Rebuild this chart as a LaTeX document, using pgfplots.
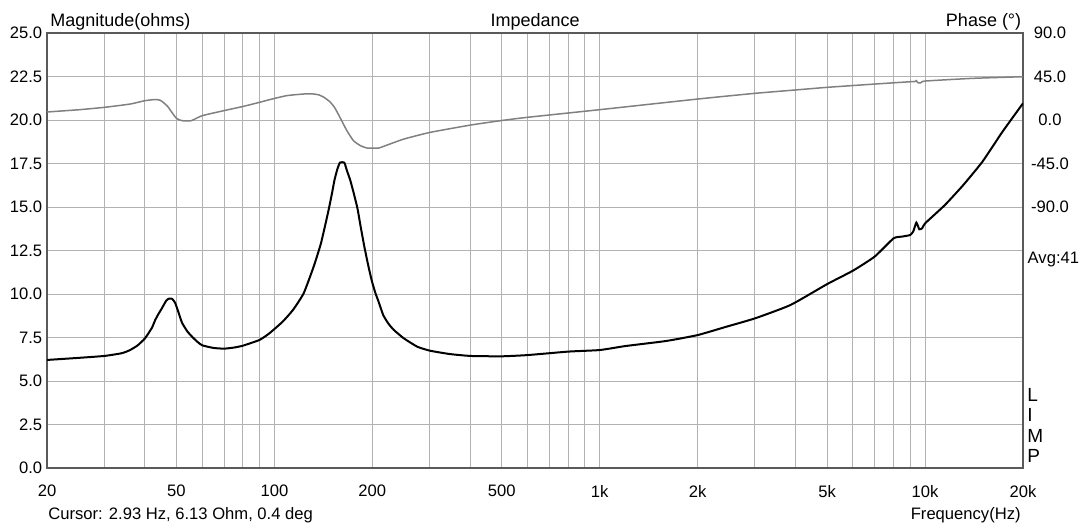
\documentclass[border=0pt]{standalone}
\usepackage{fontspec}
\setmainfont{Liberation Sans}
\usepackage{pgfplots}
\usepackage{pgfplotstable}
\pgfplotsset{compat=1.18}
\definecolor{gridc}{RGB}{178,178,178}
\definecolor{framec}{RGB}{90,90,90}
\definecolor{phasec}{RGB}{128,128,128}

% magnitude (ohms) vs frequency
\pgfplotstableread{
f z
20 6.21
25 6.33
30 6.44
34 6.60
36 6.78
38 7.05
40 7.45
42 8.05
43 8.50
44 8.85
45 9.15
46.5 9.62
47.5 9.74
48.5 9.72
49.5 9.50
50.5 9.05
52 8.35
54 7.85
56 7.52
58 7.25
60 7.05
65 6.90
70 6.86
75 6.92
80 7.03
90 7.36
96.5 7.74
106 8.41
114 9.08
123 10.04
132 11.57
139 12.91
146 14.64
150 15.70
153 16.55
156 17.15
159 17.55
164 17.55
167 17.10
171 16.55
175 15.85
180 14.92
184 13.90
189 12.72
194 11.70
199 10.80
204 10.10
209 9.56
216 8.79
224 8.30
233 7.93
250 7.45
275 6.97
301 6.74
346 6.55
401 6.44
500 6.42
600 6.49
800 6.69
1000 6.78
1200 7.01
1600 7.30
2000 7.64
2450 8.12
3000 8.60
3860 9.37
5000 10.57
6000 11.34
7000 12.15
8000 13.20
8500 13.30
9000 13.39
9200 13.60
9400 14.10
9600 13.72
9800 13.78
10000 14.06
11500 15.11
13100 16.26
15000 17.60
17300 19.33
20000 20.96
}\magdata

% phase (deg) vs frequency
\pgfplotstableread{
f p
20 8.3
25 10.6
30 13.1
36 16.5
40 20.0
43 21.2
44.5 20.5
45.5 18.3
47 14.0
48 9.6
50 1.7
52 -0.7
55.5 -0.7
60 4.5
70 9.7
80 14.0
90 18.3
96.5 21.0
109 25.2
123 26.9
132 26.9
137 26.0
142 23.5
148 19.0
153 13.1
159 2.8
167 -11.0
175 -21.4
184 -26.6
193 -29.0
209 -29.0
222 -25.9
250 -19.7
301 -12.8
401 -5.2
500 -0.5
600 2.8
1000 10.7
2000 21.7
3000 27.6
4000 31.1
5000 33.8
7000 37.2
9000 39.6
9300 39.8
9400 40.7
9500 38.6
9700 38.5
10000 40.3
14000 43.1
20000 44.8
}\phasedata

\begin{document}
\begin{tikzpicture}
\useasboundingbox (0,0) rectangle (543pt,263.5pt);
\pgfplotsset{every axis/.append style={
  at={(23.5pt,29.5pt)}, anchor=south west,
  scale only axis, width=488pt, height=217.5pt,
  xmode=log, xmin=20, xmax=20000,
  major tick length=0pt, minor tick length=0pt,
  /pgf/number format/assume math mode=true,
  tick label style={font=\fontsize{8.3}{10}\selectfont}}}
\begin{axis}[
  ymin=0, ymax=25,
  xtick={20,50,100,200,500,1000,2000,5000,10000,20000},
  xticklabels={20,50,100,200,500,1k,2k,5k,10k,20k},
  minor xtick={30,40,60,70,80,90,300,400,600,700,800,900,3000,4000,6000,7000,8000,9000},
  ytick={0,2.5,5,7.5,10,12.5,15,17.5,20,22.5,25},
  yticklabel style={/pgf/number format/fixed, /pgf/number format/fixed zerofill,
    /pgf/number format/precision=1, anchor=east, inner sep=0pt, xshift=-2.2pt},
  xticklabel style={anchor=north, inner sep=0pt, yshift=-8.3pt},
  grid=both,
  major grid style={gridc, line width=0.5pt},
  minor grid style={gridc, line width=0.5pt},
  axis line style={framec, line width=0.8pt},
]
\addplot[black, line width=1pt, smooth, tension=0.3] table[x=f, y=z] {\magdata};
\end{axis}
\begin{axis}[
  ymin=-360, ymax=90,
  axis x line=none, axis y line*=right,
  y axis line style={draw=none},
  ytick={-90,-45,0,45,90},
  yticklabels={-90.0,-45.0,0.0,45.0,90.0},
  yticklabel style={anchor=center, xshift=13.5pt},
]
\addplot[phasec, line width=0.75pt, smooth, tension=0.3] table[x=f, y=p] {\phasedata};
\end{axis}
\node[anchor=base west, inner sep=0pt, font=\fontsize{9}{10}\selectfont] at (25pt,250.5pt) {Magnitude(ohms)};
\node[anchor=base, inner sep=0pt, font=\fontsize{9}{10}\selectfont] at (267.6pt,250.5pt) {Impedance};
\node[anchor=base east, inner sep=0pt, font=\fontsize{9}{10}\selectfont] at (510.8pt,250.2pt) {Phase (°)};
\node[anchor=center, inner sep=0pt, font=\fontsize{8.3}{10}\selectfont] at (526.7pt,133.5pt) {Avg:41};
\node[anchor=base west, inner sep=0pt, font=\fontsize{9.5}{10}\selectfont] at (513.5pt,63pt) {L};
\node[anchor=base west, inner sep=0pt, font=\fontsize{9.5}{10}\selectfont] at (513.5pt,52.75pt) {I};
\node[anchor=base west, inner sep=0pt, font=\fontsize{9.5}{10}\selectfont] at (513.5pt,42.5pt) {M};
\node[anchor=base west, inner sep=0pt, font=\fontsize{9.5}{10}\selectfont] at (513.5pt,32.25pt) {P};
\node[anchor=base west, inner sep=0pt, font=\fontsize{8.3}{10}\selectfont] at (24pt,4pt) {Cursor: 2.93 Hz, 6.13 Ohm, 0.4 deg};
\node[anchor=base east, inner sep=0pt, font=\fontsize{8.3}{10}\selectfont] at (510.5pt,4pt) {Frequency(Hz)};
\end{tikzpicture}
\end{document}
